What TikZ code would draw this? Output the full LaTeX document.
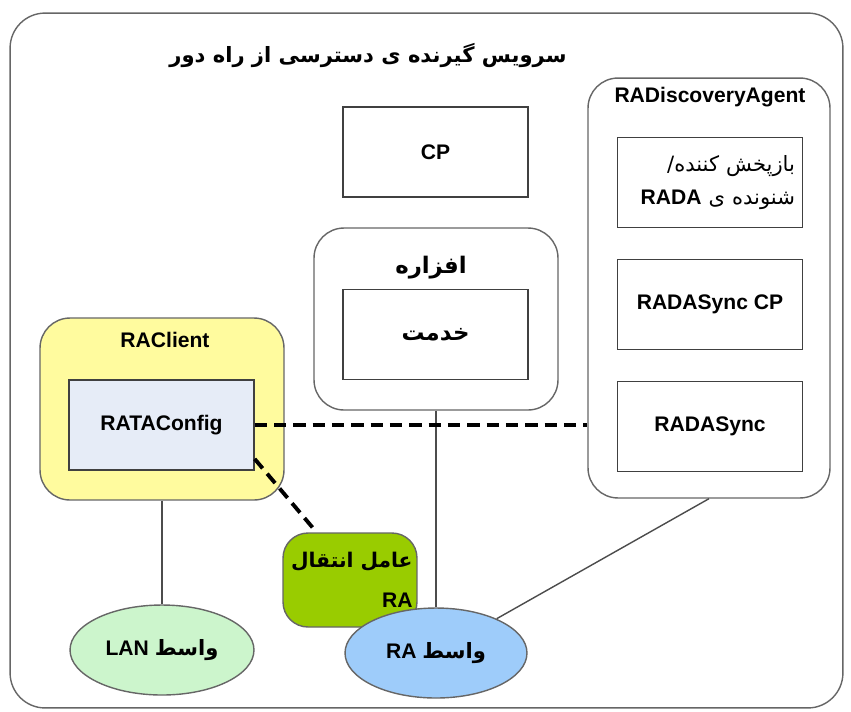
\documentclass[tikz,border=0pt]{standalone}
\usepackage{fontspec}
\usetikzlibrary{shapes.geometric}
\setmainfont{Liberation Sans}
\newfontfamily\fa[Script=Arabic]{DejaVu Sans}
\TeXXeTstate=1
\newcommand{\rtl}[1]{\beginR#1\endR}
\definecolor{clientyellow}{HTML}{FFFB9E}
\definecolor{configblue}{HTML}{E6ECF7}
\definecolor{agentgreen}{HTML}{99CC00}
\definecolor{langreen}{HTML}{CCF5CC}
\definecolor{rablue}{HTML}{9ECCFA}

\begin{document}
\begin{tikzpicture}[x=0.02cm, y=-0.02cm, font=\bfseries\fontsize{12}{15}\selectfont,
  box/.style={draw=black!75, line width=0.8pt, minimum width=3.7cm, minimum height=1.8cm},
  frame/.style={draw=black!60, line width=0.8pt, rounded corners=0.6cm},
  link/.style={draw=black!70, line width=0.8pt},
  dashlink/.style={line width=2.6pt, dash pattern=on 7pt off 4pt}]
        \useasboundingbox (0,0) rectangle (851,711);
        \node[frame, rounded corners=0.7cm, minimum width=16.66cm, minimum height=13.9cm] (outer) at (426.5,360.5) {};
        \node[font=\fa\bfseries\fontsize{12}{14}\selectfont] (title) at (368,55) {\rtl{سرویس گیرنده ی دسترسی از راه دور}};
        \node[frame, minimum width=4.84cm, minimum height=8.4cm] (agent) at (709,288) {};
        \node (agentlabel) at (710,97) {RADiscoveryAgent};
        \node[box, align=right, text width=3.4cm] (rada) at (710,182.5) {{\fa\mdseries\rtl{بازپخش کننده/}}\\[4pt] \rtl{{\fa\mdseries شنونده ی} RADA}};
        \node[box] (synccp) at (710,304.5) {RADASync CP};
        \node[box] (sync) at (710,426.5) {RADASync};
        \node[box] (cp) at (435.5,152) {CP};
        \node[frame, minimum width=4.88cm, minimum height=3.64cm] (device) at (436,319) {};
        \node[font=\fa\bfseries\fontsize{13}{15}\selectfont] (devicelabel) at (431,268) {\rtl{افزاره}};
        \node[box, font=\fa\bfseries\fontsize{13}{15}\selectfont] (service) at (435.5,334.5) {\rtl{خدمت}};
        \node[frame, fill=clientyellow, minimum width=4.88cm, minimum height=3.64cm] (client) at (162,409) {};
        \node (clientlabel) at (165,340) {RAClient};
        \node[box, fill=configblue] (rata) at (161.5,425) {RATAConfig};
        \node[frame, fill=agentgreen, rounded corners=0.5cm, minimum width=2.68cm, minimum height=1.88cm, align=right, text width=2.5cm, inner xsep=1pt] (transfer) at (350,580) {{\fa\fontsize{11.5}{14}\selectfont\rtl{عامل انتقال}}\\[8pt] RA};
        \node[draw=black!60, line width=0.8pt, ellipse, fill=langreen, minimum width=3.68cm, minimum height=1.8cm] (lan) at (162,650) {\rtl{{\fa واسط} LAN}};
        \node[draw=black!60, line width=0.8pt, ellipse, fill=rablue, minimum width=3.64cm, minimum height=1.8cm] (ra) at (436,653) {\rtl{{\fa واسط} RA}};
        \draw[link] (client.south) -- (lan.north);
        \draw[link] (device.south) -- (ra.north);
        \draw[link] (agent.south) -- (ra);
        \draw[dashlink] (rata.east) -- (rata.east -| agent.west);
        \draw[dashlink, line width=2.2pt] (rata.-20) -- (transfer.125);
        \end{tikzpicture}
\end{document}
